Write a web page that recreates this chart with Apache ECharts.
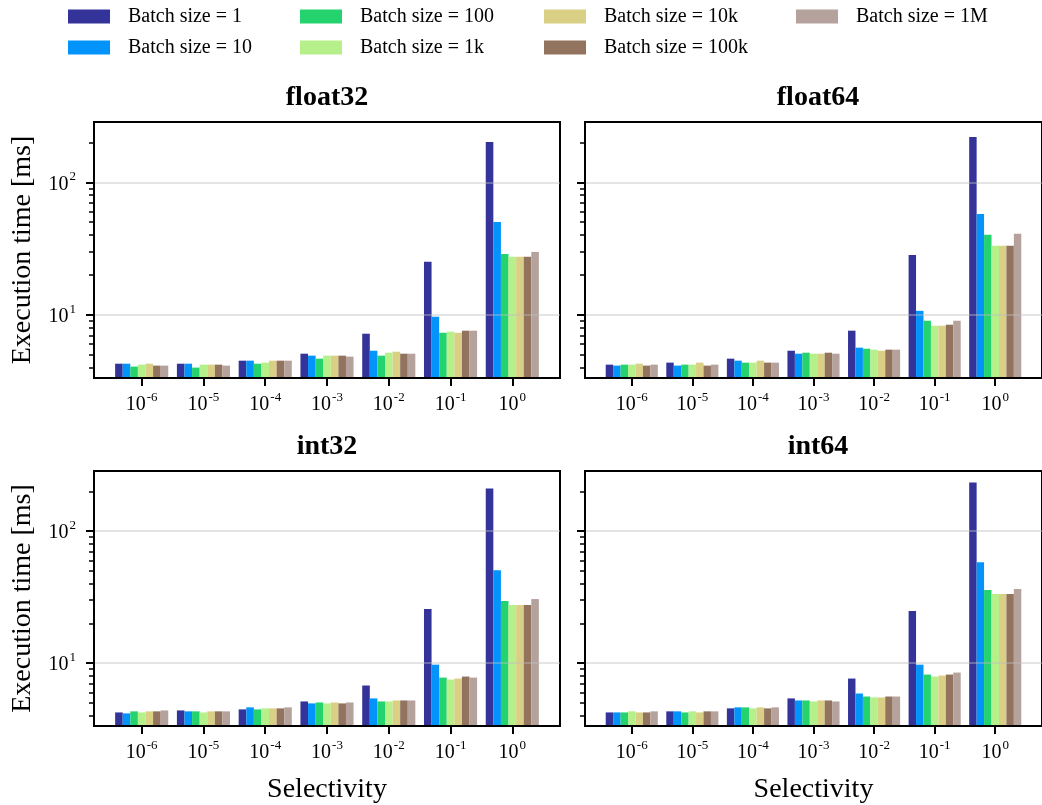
<!DOCTYPE html>
<html>
<head>
<meta charset="utf-8">
<script src="https://cdn.jsdelivr.net/npm/echarts@6/dist/echarts.min.js"></script>
<style>
  html, body { margin: 0; padding: 0; background: #ffffff; }
  #chart { width: 1042px; height: 805px; }
</style>
</head>
<body>
<div id="chart"></div>
<script>
// Series (batch sizes) and their colours
const batchSizes = ['Batch size = 1', 'Batch size = 10', 'Batch size = 100', 'Batch size = 1k',
                    'Batch size = 10k', 'Batch size = 100k', 'Batch size = 1M'];
const batchColors = ['#333399', '#0294fa', '#24d36d', '#b6f08a', '#dad085', '#92735e', '#b6a29d'];

// Selectivity categories: 10^-6 ... 10^0
const selectivityExponents = ['-6', '-5', '-4', '-3', '-2', '-1', '0'];

// Log-axis ticks
const yMajorTicks = [10, 100];
const yMinorTicks = [4, 5, 6, 7, 8, 9, 20, 30, 40, 50, 60, 70, 80, 90, 200];

// Execution time [ms]; one row per selectivity, one column per batch size
const float32Times = [
  [4.27, 4.27, 4.06, 4.20, 4.27, 4.13, 4.13],
  [4.27, 4.27, 3.99, 4.20, 4.20, 4.20, 4.13],
  [4.50, 4.50, 4.27, 4.35, 4.50, 4.50, 4.50],
  [5.08, 4.91, 4.66, 4.91, 4.91, 4.91, 4.83],
  [7.19, 5.35, 4.91, 5.17, 5.26, 5.08, 5.08],
  [25.1, 9.66, 7.31, 7.45, 7.31, 7.58, 7.58],
  [201, 50.2, 28.8, 27.4, 27.4, 27.4, 29.8]
];
const float64Times = [
  [4.20, 4.13, 4.20, 4.20, 4.27, 4.13, 4.20],
  [4.35, 4.13, 4.20, 4.20, 4.35, 4.13, 4.20],
  [4.66, 4.50, 4.35, 4.35, 4.50, 4.35, 4.35],
  [5.35, 5.08, 5.17, 5.08, 5.08, 5.17, 5.08],
  [7.58, 5.64, 5.54, 5.45, 5.35, 5.45, 5.45],
  [28.3, 10.7, 9.01, 8.26, 8.26, 8.41, 9.01],
  [220, 57.7, 40.1, 33.1, 33.1, 33.1, 40.8]
];
const int32Times = [
  [4.22, 4.15, 4.30, 4.22, 4.30, 4.30, 4.37],
  [4.37, 4.30, 4.30, 4.22, 4.30, 4.30, 4.30],
  [4.45, 4.61, 4.45, 4.53, 4.53, 4.53, 4.61],
  [5.11, 4.94, 5.02, 4.94, 5.02, 4.94, 5.02],
  [6.75, 5.39, 5.11, 5.11, 5.20, 5.20, 5.20],
  [25.7, 9.71, 7.75, 7.49, 7.62, 7.89, 7.75],
  [210, 50.5, 29.5, 27.5, 27.5, 27.5, 30.5]
];
const int64Times = [
  [4.22, 4.22, 4.22, 4.30, 4.22, 4.22, 4.30],
  [4.30, 4.30, 4.22, 4.30, 4.22, 4.30, 4.30],
  [4.53, 4.61, 4.61, 4.53, 4.61, 4.53, 4.61],
  [5.39, 5.20, 5.20, 5.11, 5.20, 5.20, 5.11],
  [7.62, 5.87, 5.57, 5.48, 5.48, 5.57, 5.57],
  [24.8, 9.71, 8.17, 7.89, 8.03, 8.17, 8.46],
  [233, 58.0, 35.7, 33.3, 33.3, 33.3, 36.3]
];

const panelTitles = ['float32', 'float64', 'int32', 'int64'];
const panelData = [float32Times, float64Times, int32Times, int64Times];

// Layout
const FONT = '"Liberation Serif", "DejaVu Serif", serif';
const panelBoxes = [
  { left: 94,  top: 122 }, { left: 585, top: 122 },
  { left: 94,  top: 471 }, { left: 585, top: 471 }
];
const PANEL_W = 466, PANEL_H = 256;
const X_MIN = -0.772, X_MAX = 6.772;
const Y_MIN = 3.33, Y_MAX = 285;
const legendColumns = [
  { left: 68,  items: [0, 1] }, { left: 300, items: [2, 3] },
  { left: 544, items: [4, 5] }, { left: 796, items: [6] }
];

const black = '#000000';
const supRich = {
  b: { fontFamily: FONT, fontSize: 20, color: black, lineHeight: 24, verticalAlign: 'bottom' },
  s: { fontFamily: FONT, fontSize: 13, color: black, lineHeight: 24, verticalAlign: 'top', padding: [0, 0, 0, 1] }
};

const grids = [], xAxes = [], yAxes = [], series = [], titles = [];
panelBoxes.forEach((box, p) => {
  const isLeft = p % 2 === 0;
  const isBottom = p >= 2;
  grids.push({
    left: box.left, top: box.top, width: PANEL_W, height: PANEL_H,
    show: true, borderColor: black, borderWidth: 2, backgroundColor: 'rgba(0,0,0,0)'
  });
  titles.push({
    text: panelTitles[p],
    left: box.left + PANEL_W / 2, top: box.top - 38, textAlign: 'center', padding: 0,
    textStyle: { fontFamily: FONT, fontSize: 28, fontWeight: 'bold', color: black }
  });
  xAxes.push({
    gridIndex: p, type: 'value', min: X_MIN, max: X_MAX, z: 5,
    axisLine: { show: true, onZero: false, lineStyle: { color: black, width: 2 } },
    axisTick: { show: true, customValues: selectivityExponents.map((_, i) => i), length: 8,
                lineStyle: { color: black, width: 2 } },
    axisLabel: {
      customValues: selectivityExponents.map((_, i) => i), margin: 13,
      formatter: v => '{b|10}{s|' + selectivityExponents[Math.round(v)] + '}',
      rich: supRich
    },
    splitLine: { show: false },
    name: isBottom ? 'Selectivity' : '', nameLocation: 'middle', nameGap: 50,
    nameTextStyle: { fontFamily: FONT, fontSize: 28, color: black }
  });
  yAxes.push({
    gridIndex: p, type: 'log', logBase: 10, min: Y_MIN, max: Y_MAX, position: 'left', z: 5,
    axisLine: { show: true, onZero: false, lineStyle: { color: black, width: 2 } },
    axisTick: { show: true, customValues: yMajorTicks, length: 8, lineStyle: { color: black, width: 2 } },
    axisLabel: {
      show: isLeft, customValues: yMajorTicks, margin: 18,
      formatter: v => '{b|10}{s|' + Math.round(Math.log10(v)) + '}',
      rich: supRich
    },
    splitLine: { show: true, lineStyle: { color: 'rgba(190,190,190,0.55)', width: 1.5 } },
    name: isLeft ? 'Execution time [ms]' : '', nameLocation: 'middle', nameGap: 57, nameRotate: 90,
    nameTextStyle: { fontFamily: FONT, fontSize: 28, color: black }
  });
  yAxes.push({
    gridIndex: p, type: 'log', logBase: 10, min: Y_MIN, max: Y_MAX, position: 'left', z: 5,
    axisLine: { show: false, onZero: false },
    axisTick: { show: true, customValues: yMinorTicks, length: 5, lineStyle: { color: black, width: 1.5 } },
    axisLabel: { show: false },
    splitLine: { show: false }
  });
  batchSizes.forEach((name, b) => {
    series.push({
      type: 'bar', name: name, xAxisIndex: p, yAxisIndex: 2 * p,
      data: panelData[p].map((row, j) => [j, row[b]]),
      itemStyle: { color: batchColors[b] },
      barGap: '0%', barCategoryGap: '14%', clip: true,
      emphasis: { disabled: true }, silent: true
    });
  });
});

const legends = legendColumns.map(col => ({
  data: col.items.map(i => batchSizes[i]),
  left: col.left, top: 6, padding: 0, orient: 'vertical', icon: 'rect',
  itemWidth: 42, itemHeight: 14, itemGap: 10, selectedMode: false,
  textStyle: { fontFamily: FONT, fontSize: 20, color: black, lineHeight: 21, padding: [0, 0, 0, 13] }
}));

const chart = echarts.init(document.getElementById('chart'), null, { renderer: 'canvas' });
chart.setOption({
  animation: false,
  backgroundColor: '#ffffff',
  color: batchColors,
  title: titles,
  legend: legends,
  grid: grids,
  xAxis: xAxes,
  yAxis: yAxes,
  series: series
});
</script>
</body>
</html>
